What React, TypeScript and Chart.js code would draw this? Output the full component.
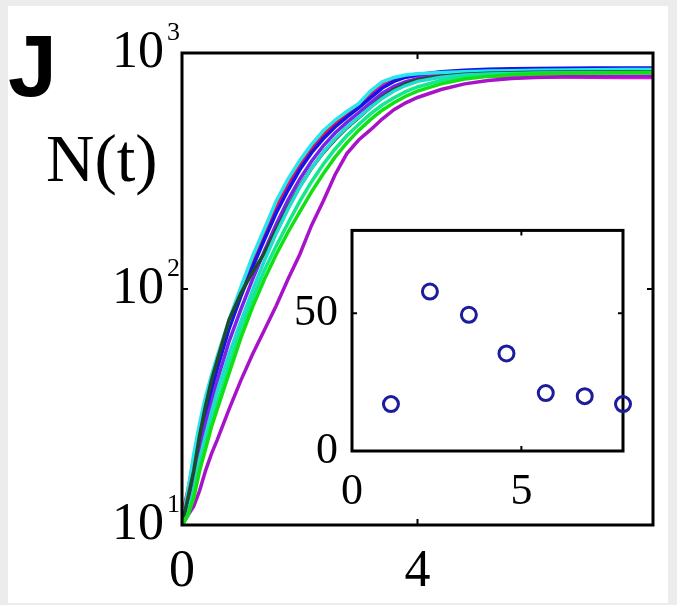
import React, { useEffect, useRef } from "react";
import { Chart, registerables } from "chart.js";

Chart.register(...registerables);

// ---------- data ----------
const tGrid = [0, 0.1, 0.2, 0.3, 0.4, 0.5, 0.6, 0.8, 1.0, 1.2, 1.4, 1.6, 1.8, 2.0, 2.2, 2.4, 2.6, 2.8, 3.0, 3.2, 3.4, 3.6, 3.8, 4.0, 4.4, 4.8, 5.2, 5.6, 6.0, 6.5, 7.0, 7.5, 8.0];

const nGreen = [10, 11, 13, 17, 21, 26, 31, 44, 62, 84, 110, 140, 174, 212, 258, 308, 362, 416, 470, 522, 572, 616, 656, 690, 740, 776, 796, 808, 815, 820, 823, 825, 826];
const nSpring = [10, 11, 14, 18, 22, 27, 33, 48, 67, 91, 120, 152, 190, 235, 285, 338, 392, 446, 498, 552, 602, 646, 686, 718, 765, 795, 808, 815, 820, 823, 825, 826, 827];
const nTeal = [10, 11, 14, 19, 24, 30, 37, 53, 73, 99, 132, 172, 218, 270, 325, 380, 434, 485, 535, 588, 642, 690, 728, 758, 790, 806, 814, 818, 821, 823, 824, 825, 825];
const nDark = [10, 13, 17, 24, 32, 41, 50, 74, 96, 118, 142, 178, 222, 272, 325, 378, 430, 482, 532, 590, 650, 700, 742, 770, 798, 812, 820, 825, 828, 830, 831, 832, 832];
const nPurple = [10, 11, 12, 14, 17, 20, 23, 31, 41, 53, 67, 85, 110, 140, 186, 236, 305, 375, 428, 472, 525, 575, 615, 648, 700, 740, 765, 780, 788, 793, 796, 798, 799];
const nViolet = [10, 12, 15, 20, 27, 33, 41, 60, 82, 110, 145, 188, 238, 292, 348, 404, 458, 508, 558, 615, 675, 722, 756, 778, 800, 812, 818, 822, 825, 827, 828, 829, 829];
const nCyan = [10, 14, 20, 27, 35, 43, 52, 74, 102, 138, 180, 236, 292, 350, 410, 468, 520, 565, 610, 690, 755, 788, 806, 816, 826, 833, 838, 842, 845, 848, 850, 851, 852];
const nBlue = [10, 12, 16, 22, 29, 37, 46, 68, 93, 124, 162, 210, 262, 320, 378, 433, 486, 535, 585, 645, 710, 758, 790, 808, 832, 846, 853, 857, 860, 862, 863, 864, 864];
const nMagenta = [10, 13, 18, 24, 31, 39, 48, 70, 97, 130, 170, 220, 274, 332, 390, 445, 498, 546, 595, 665, 735, 772, 792, 802, 808, 806, 800, 796, 793, 791, 789, 788, 787];
const nRed = [11, 14, 19, 25, 33, 42, 51, 73, 100, 134, 176, 228, 284, 342, 400, 455, 508, 555, 605, 680, 748, 782, 800, 812, 822, 829, 834, 837, 839, 841, 842, 843, 844];

const seriesValues = [nGreen, nSpring, nTeal, nDark, nCyan, nViolet, nBlue, nPurple, nRed, nMagenta];
const seriesColors = ["#12e012", "#10ea8c", "#20dcd0", "#1f4a2c", "#28e6ee", "#7a22e8", "#1414e6", "#a812c8", "#ea1040", "#e010e0"];

const mainXTicks = [0, 4];
const mainYTicks = [10, 100, 1000];

const insetX = [1.15, 2.3, 3.45, 4.56, 5.72, 6.87, 8.0];
const insetY = [17.0, 57.8, 49.4, 35.4, 21.0, 19.9, 17.0];
const insetXTicks = [0, 5];
const insetYTicks = [0, 50];

// ---------- styling ----------
const SERIF = '"Liberation Serif", "Times New Roman", serif';
const SANS = '"Liberation Sans", Arial, sans-serif';

const W = 677;
const H = 605;

const mainFramePlugin = {
  id: "mainFrame",
  afterDraw(chart: any) {
    const { ctx, chartArea } = chart;
    const { left, right, top, bottom } = chartArea;
    const xs = chart.scales.x;
    const ys = chart.scales.y;
    ctx.save();
    ctx.strokeStyle = "#000";
    ctx.lineWidth = 3;
    ctx.strokeRect(left, top, right - left, bottom - top);
    // inward ticks
    ctx.lineWidth = 2;
    ctx.beginPath();
    mainXTicks.forEach((v) => {
      const px = xs.getPixelForValue(v);
      ctx.moveTo(px, bottom);
      ctx.lineTo(px, bottom - 6);
      ctx.moveTo(px, top);
      ctx.lineTo(px, top + 6);
    });
    mainYTicks.forEach((v) => {
      const py = ys.getPixelForValue(v);
      ctx.moveTo(left, py);
      ctx.lineTo(left + 6, py);
      ctx.moveTo(right, py);
      ctx.lineTo(right - 6, py);
    });
    ctx.stroke();
    // exponents for y tick labels
    ctx.fillStyle = "#000";
    ctx.textAlign = "left";
    ctx.textBaseline = "alphabetic";
    ctx.font = `26px ${SERIF}`;
    const labelRight = left - 18;
    mainYTicks.forEach((v) => {
      const py = ys.getPixelForValue(v);
      ctx.fillText(String(Math.round(Math.log10(v))), labelRight + 3, py - 13);
    });
    // panel letter and y label
    ctx.font = `bold 88px ${SANS}`;
    ctx.fillText("J", 8, 96);
    ctx.font = `67px ${SERIF}`;
    ctx.fillText("N(t)", 46, 181);
    ctx.restore();
  },
};

const insetFramePlugin = {
  id: "insetFrame",
  beforeDatasetsDraw(chart: any) {
    const { ctx, chartArea } = chart;
    const { left, right, top, bottom } = chartArea;
    const xs = chart.scales.x;
    const ys = chart.scales.y;
    ctx.save();
    ctx.fillStyle = "#fff";
    ctx.fillRect(left, top, right - left, bottom - top);
    ctx.strokeStyle = "#000";
    ctx.lineWidth = 3;
    ctx.strokeRect(left, top, right - left, bottom - top);
    ctx.lineWidth = 2;
    ctx.beginPath();
    insetXTicks.forEach((v) => {
      const px = xs.getPixelForValue(v);
      ctx.moveTo(px, bottom);
      ctx.lineTo(px, bottom - 5);
      ctx.moveTo(px, top);
      ctx.lineTo(px, top + 5);
    });
    insetYTicks.forEach((v) => {
      const py = ys.getPixelForValue(v);
      ctx.moveTo(left, py);
      ctx.lineTo(left + 5, py);
      ctx.moveTo(right, py);
      ctx.lineTo(right - 5, py);
    });
    ctx.stroke();
    ctx.restore();
  },
};

export default function App() {
  const mainRef = useRef<HTMLCanvasElement>(null);
  const insetRef = useRef<HTMLCanvasElement>(null);

  useEffect(() => {
    if (!mainRef.current || !insetRef.current) return;

    const main = new Chart(mainRef.current, {
      type: "line",
      data: {
        datasets: seriesValues.map((vals, i) => ({
          data: tGrid.map((t, j) => ({ x: t, y: vals[j] })),
          borderColor: seriesColors[i],
          borderWidth: 3.5,
          pointRadius: 0,
          tension: 0,
          fill: false,
        })),
      },
      options: {
        animation: false,
        responsive: false,
        maintainAspectRatio: false,
        devicePixelRatio: 1,
        layout: { padding: { left: 0, top: 53, right: 24, bottom: 0 } },
        plugins: { legend: { display: false }, tooltip: { enabled: false } },
        scales: {
          x: {
            type: "linear",
            min: 0,
            max: 8,
            afterBuildTicks: (s: any) => {
              s.ticks = mainXTicks.map((v) => ({ value: v }));
            },
            afterFit: (s: any) => {
              s.height = 80;
            },
            grid: { display: false, drawTicks: false },
            border: { display: false },
            ticks: {
              color: "#000",
              font: { family: SERIF, size: 52 },
              padding: 16,
              maxRotation: 0,
              autoSkip: false,
            },
          },
          y: {
            type: "logarithmic",
            min: 10,
            max: 1000,
            afterBuildTicks: (s: any) => {
              s.ticks = mainYTicks.map((v) => ({ value: v }));
            },
            afterFit: (s: any) => {
              s.width = 182;
            },
            grid: { display: false, drawTicks: false },
            border: { display: false },
            ticks: {
              color: "#000",
              font: { family: SERIF, size: 52 },
              padding: 18,
              autoSkip: false,
              callback: () => "10",
            },
          },
        },
      },
      plugins: [mainFramePlugin],
    } as any);

    const inset = new Chart(insetRef.current, {
      type: "scatter",
      data: {
        datasets: [
          {
            data: insetX.map((x, i) => ({ x, y: insetY[i] })),
            borderColor: "#1c1c9c",
            backgroundColor: "rgba(0,0,0,0)",
            borderWidth: 3,
            pointRadius: 7.5,
            pointStyle: "circle",
            clip: false,
          },
        ],
      },
      options: {
        animation: false,
        responsive: false,
        maintainAspectRatio: false,
        devicePixelRatio: 1,
        layout: { padding: { left: 0, top: 29, right: 39, bottom: 0 } },
        plugins: { legend: { display: false }, tooltip: { enabled: false } },
        scales: {
          x: {
            type: "linear",
            min: 0,
            max: 8,
            afterBuildTicks: (s: any) => {
              s.ticks = insetXTicks.map((v) => ({ value: v }));
            },
            afterFit: (s: any) => {
              s.height = 79;
            },
            grid: { display: false, drawTicks: false },
            border: { display: false },
            ticks: {
              color: "#000",
              font: { family: SERIF, size: 44 },
              padding: 15,
              maxRotation: 0,
              autoSkip: false,
            },
          },
          y: {
            type: "linear",
            min: 0,
            max: 80,
            afterBuildTicks: (s: any) => {
              s.ticks = insetYTicks.map((v) => ({ value: v }));
            },
            afterFit: (s: any) => {
              s.width = 90;
            },
            grid: { display: false, drawTicks: false },
            border: { display: false },
            ticks: {
              color: "#000",
              font: { family: SERIF, size: 44 },
              padding: 14,
              autoSkip: false,
            },
          },
        },
      },
      plugins: [insetFramePlugin],
    } as any);

    return () => {
      main.destroy();
      inset.destroy();
    };
  }, []);

  return (
    <div style={{ position: "fixed", left: 0, top: 0, width: W, height: H, background: "#ececec", overflow: "hidden" }}>
      <div style={{ position: "absolute", left: 8, top: 6, width: 660, height: 597, background: "#fff" }} />
      <canvas
        ref={mainRef}
        width={W}
        height={H}
        style={{ position: "absolute", left: 0, top: 0, width: W, height: H }}
      />
      <canvas
        ref={insetRef}
        width={400}
        height={340}
        style={{ position: "absolute", left: 262, top: 190, width: 400, height: 340 }}
      />
    </div>
  );
}
